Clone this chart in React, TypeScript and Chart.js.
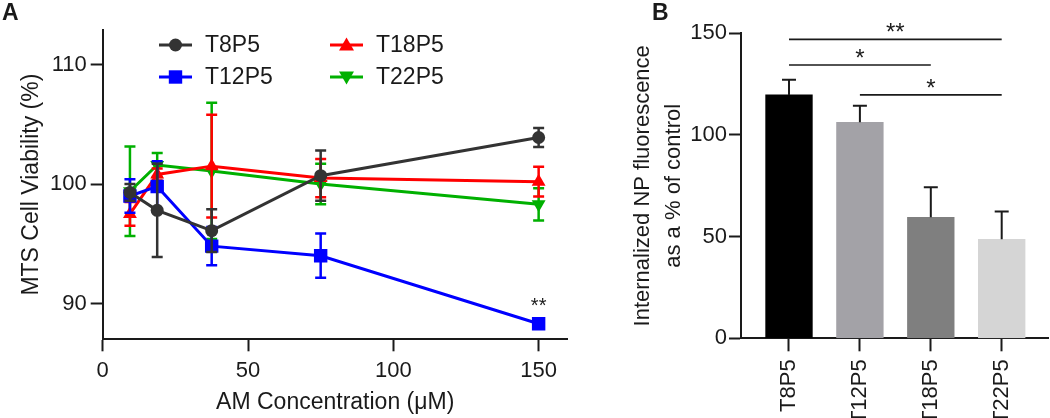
import React, { useEffect, useRef } from 'react';
import { Chart, registerables } from 'chart.js';
Chart.register(...registerables);

const FONT = '"Liberation Sans", Arial, Helvetica, sans-serif';
const INK = '#1a1a1a';

// ---------- Panel A data ----------
const concentrations = [9.375, 18.75, 37.5, 75, 150];
const seriesNames = ['T8P5', 'T12P5', 'T18P5', 'T22P5'];
const t8p5Mean = [99.3, 97.8, 96.1, 100.7, 103.9];
const t8p5Err = [0.7, 3.9, 1.8, 2.1, 0.8];
const t12p5Mean = [99.0, 99.8, 94.8, 94.0, 88.3];
const t12p5Err = [1.4, 2.1, 1.6, 1.85, 0.4];
const t18p5Mean = [97.5, 100.8, 101.5, 100.5, 100.2];
const t18p5Err = [1.0, 0.5, 4.3, 1.6, 1.25];
const t22p5Mean = [99.4, 101.6, 101.1, 100.0, 98.3];
const t22p5Err = [3.75, 1.0, 5.7, 1.7, 1.35];
const viabilityTicks = [90, 100, 110];
const concentrationTicks = [0, 50, 100, 150];
const sigA = { x: 150, y: 89.3, label: '**' };

// ---------- Panel B data ----------
const barLabels = ['T8P5', 'T12P5', 'T18P5', 'T22P5'];
const fluorescence = [119.7, 106.2, 59.5, 48.7];
const fluorescenceErr = [7.4, 8.2, 14.8, 13.6];
const fluorescenceTicks = [0, 50, 100, 150];
const sigFrom = [0, 0, 1];
const sigTo = [3, 2, 3];
const sigLevel = [147, 134.4, 119.7];
const sigLabel = ['**', '*', '*'];

const means = [t8p5Mean, t12p5Mean, t18p5Mean, t22p5Mean];
const errs = [t8p5Err, t12p5Err, t18p5Err, t22p5Err];
const lineColors = ['#333333', '#0000FF', '#FF0000', '#00B000'];
const pointStyles = ['circle', 'rect', 'triangle', 'triangle'];
const pointRotations = [0, 0, 0, 180];
const pointRadii = [6.5, 9.5, 8, 8];
const barColors = ['#000000', '#A3A2A7', '#7F7F7F', '#D5D5D5'];

function drawMarker(ctx: CanvasRenderingContext2D, style: string, rot: number, x: number, y: number, color: string) {
  ctx.save();
  ctx.fillStyle = color;
  ctx.beginPath();
  if (style === 'circle') {
    ctx.arc(x, y, 6.5, 0, Math.PI * 2);
  } else if (style === 'rect') {
    ctx.rect(x - 6.7, y - 6.7, 13.4, 13.4);
  } else {
    const s = rot ? -1 : 1;
    ctx.moveTo(x, y - 7.5 * s);
    ctx.lineTo(x + 7.5, y + 5.5 * s);
    ctx.lineTo(x - 7.5, y + 5.5 * s);
    ctx.closePath();
  }
  ctx.fill();
  ctx.restore();
}

export default function App() {
  const refA = useRef<HTMLCanvasElement>(null);
  const refB = useRef<HTMLCanvasElement>(null);

  useEffect(() => {
    const errorBarsA = {
      id: 'errorBarsA',
      beforeDatasetDraw(chart: any, args: any) {
        const i = args.index;
        const ys = chart.scales.y;
        const ctx = chart.ctx;
        ctx.save();
        ctx.strokeStyle = lineColors[i];
        ctx.lineWidth = 2.5;
        args.meta.data.forEach((pt: any, j: number) => {
          const x = pt.x;
          const top = ys.getPixelForValue(means[i][j] + errs[i][j]);
          const bot = ys.getPixelForValue(means[i][j] - errs[i][j]);
          ctx.beginPath();
          ctx.moveTo(x, top); ctx.lineTo(x, bot);
          ctx.moveTo(x - 5.5, top); ctx.lineTo(x + 5.5, top);
          ctx.moveTo(x - 5.5, bot); ctx.lineTo(x + 5.5, bot);
          ctx.stroke();
        });
        ctx.restore();
      },
      afterDraw(chart: any) {
        const ctx = chart.ctx;
        // legend
        const cols = [159, 330];
        const rows = [45, 77];
        const order = [[0, 0], [0, 1], [1, 0], [1, 1]];
        seriesNames.forEach((name, i) => {
          const lx = cols[order[i][0]];
          const ly = rows[order[i][1]];
          ctx.save();
          ctx.strokeStyle = lineColors[i];
          ctx.lineWidth = 3;
          ctx.beginPath(); ctx.moveTo(lx, ly); ctx.lineTo(lx + 33, ly); ctx.stroke();
          drawMarker(ctx, pointStyles[i], pointRotations[i], lx + 16.5, ly, lineColors[i]);
          ctx.fillStyle = INK;
          ctx.font = `23px ${FONT}`;
          ctx.textBaseline = 'middle';
          ctx.textAlign = 'left';
          ctx.fillText(name, lx + 46, ly + 1);
          ctx.restore();
        });
        // significance
        ctx.save();
        ctx.fillStyle = INK;
        ctx.font = `20px ${FONT}`;
        ctx.textAlign = 'center';
        ctx.textBaseline = 'alphabetic';
        ctx.fillText(sigA.label, chart.scales.x.getPixelForValue(sigA.x), chart.scales.y.getPixelForValue(sigA.y));
        // panel letter
        ctx.font = `bold 23px ${FONT}`;
        ctx.textAlign = 'left';
        ctx.fillText('A', 2, 20);
        ctx.restore();
      },
    };

    const axisCommon = {
      border: { display: true, width: 2, color: INK },
    };

    const chartA = new Chart(refA.current!, {
      type: 'line',
      data: {
        datasets: seriesNames.map((name, i) => ({
          label: name,
          data: concentrations.map((x, j) => ({ x, y: means[i][j] })),
          borderColor: lineColors[i],
          backgroundColor: lineColors[i],
          borderWidth: 3,
          pointStyle: pointStyles[i] as any,
          pointRotation: pointRotations[i],
          pointRadius: pointRadii[i],
          pointBorderWidth: 0,
          tension: 0,
        })),
      },
      options: {
        animation: false,
        responsive: false,
        maintainAspectRatio: false,
        layout: { padding: { left: 0, right: 22.3, top: 30, bottom: 0 } },
        plugins: { legend: { display: false }, tooltip: { enabled: false } },
        scales: {
          x: {
            type: 'linear',
            min: 0,
            max: 160,
            afterBuildTicks: (s: any) => { s.ticks = concentrationTicks.map((v) => ({ value: v })); },
            afterFit: (s: any) => { s.height = 418 - 339.3; },
            ticks: { font: { family: FONT, size: 22 }, color: INK, padding: 6, maxRotation: 0 },
            grid: { drawOnChartArea: false, drawTicks: true, tickLength: 12, tickWidth: 2, tickColor: INK },
            ...axisCommon,
            title: { display: true, text: 'AM Concentration (\u03bcM)', font: { family: FONT, size: 23 }, color: INK, padding: { top: 0, bottom: 2 } },
          },
          y: {
            type: 'linear',
            min: 87,
            max: 112.9,
            afterBuildTicks: (s: any) => { s.ticks = viabilityTicks.map((v) => ({ value: v })); },
            afterFit: (s: any) => { s.width = 102.7; },
            ticks: { font: { family: FONT, size: 22 }, color: INK, padding: 4 },
            grid: { drawOnChartArea: false, drawTicks: true, tickLength: 12, tickWidth: 2, tickColor: INK },
            ...axisCommon,
            title: { display: true, text: 'MTS Cell Viability (%)', font: { family: FONT, size: 23 }, color: INK, padding: { top: 18, bottom: 0 } },
          },
        },
      },
      plugins: [errorBarsA],
    } as any);

    const annotB = {
      id: 'annotB',
      afterDatasetsDraw(chart: any) {
        const ctx = chart.ctx;
        const xs = chart.scales.x;
        const ys = chart.scales.y;
        ctx.save();
        ctx.strokeStyle = INK;
        ctx.lineWidth = 2;
        chart.getDatasetMeta(0).data.forEach((bar: any, j: number) => {
          const x = bar.x;
          const top = ys.getPixelForValue(fluorescence[j]);
          const e = ys.getPixelForValue(fluorescence[j] + fluorescenceErr[j]);
          ctx.beginPath();
          ctx.moveTo(x, top); ctx.lineTo(x, e);
          ctx.moveTo(x - 7, e); ctx.lineTo(x + 7, e);
          ctx.stroke();
        });
        ctx.lineWidth = 1.6;
        ctx.fillStyle = INK;
        ctx.font = `24px ${FONT}`;
        ctx.textAlign = 'center';
        ctx.textBaseline = 'alphabetic';
        sigLabel.forEach((lab, k) => {
          const x1 = xs.getPixelForValue(sigFrom[k]);
          const x2 = xs.getPixelForValue(sigTo[k]);
          const y = ys.getPixelForValue(sigLevel[k]);
          ctx.beginPath(); ctx.moveTo(x1, y); ctx.lineTo(x2, y); ctx.stroke();
          ctx.fillText(lab, (x1 + x2) / 2, y + 1);
        });
        ctx.font = `bold 23px ${FONT}`;
        ctx.textAlign = 'left';
        ctx.fillText('B', 62, 20);
        ctx.restore();
      },
    };

    const chartB = new Chart(refB.current!, {
      type: 'bar',
      data: {
        datasets: [{
          data: fluorescence.map((v, i) => ({ x: i, y: v })),
          backgroundColor: barColors,
          borderWidth: 0,
          barThickness: 46.7,
        }],
      },
      options: {
        animation: false,
        responsive: false,
        maintainAspectRatio: false,
        layout: { padding: { left: 0, right: 2, top: 33.3, bottom: 0 } },
        plugins: { legend: { display: false }, tooltip: { enabled: false } },
        scales: {
          x: {
            type: 'linear',
            offset: false,
            min: -0.677,
            max: 3.653,
            afterBuildTicks: (s: any) => { s.ticks = barLabels.map((_, i) => ({ value: i })); },
            afterFit: (s: any) => { s.height = 418 - 338.3; },
            ticks: {
              callback: (v: any) => barLabels[Math.round(Number(v))],
              autoSkip: false,
              minRotation: 90,
              maxRotation: 90,
              font: { family: FONT, size: 22 },
              color: INK,
              padding: 8,
            },
            grid: { offset: false, drawOnChartArea: false, drawTicks: true, tickLength: 13, tickWidth: 2, tickColor: INK },
            ...axisCommon,
          },
          y: {
            type: 'linear',
            min: 0,
            max: 150,
            afterBuildTicks: (s: any) => { s.ticks = fluorescenceTicks.map((v) => ({ value: v })); },
            afterFit: (s: any) => { s.width = 151; },
            ticks: { font: { family: FONT, size: 22 }, color: INK, padding: 2 },
            grid: { drawOnChartArea: false, drawTicks: true, tickLength: 12, tickWidth: 2, tickColor: INK },
            ...axisCommon,
            title: {
              display: true,
              text: ['Internalized NP fluorescence', 'as a % of control'],
              font: { family: FONT, size: 22, lineHeight: 1.4 },
              color: INK,
              padding: { top: 37.6, bottom: 0 },
            },
          },
        },
      },
      plugins: [annotB],
    } as any);

    return () => {
      chartA.destroy();
      chartB.destroy();
    };
  }, []);

  return (
    <div style={{ position: 'absolute', left: 0, top: 0, width: 1050, height: 418, background: '#fff', overflow: 'hidden' }}>
      <canvas ref={refA} width={590} height={418} style={{ position: 'absolute', left: 0, top: 0, width: 590, height: 418 }} />
      <canvas ref={refB} width={460} height={418} style={{ position: 'absolute', left: 590, top: 0, width: 460, height: 418 }} />
    </div>
  );
}
